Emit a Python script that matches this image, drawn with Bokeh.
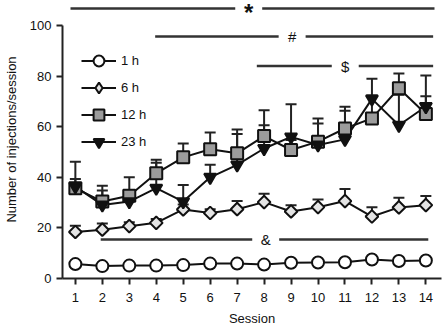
import math
from bokeh.plotting import figure
from bokeh.models import (ColumnDataSource, Range1d, FixedTicker, Whisker, TeeHead,
                          Legend, LegendItem)
from bokeh.core.properties import value
from bokeh.embed import file_html
from bokeh.resources import INLINE

sessions = list(range(1, 15))
h1_mean = [5.7, 4.9, 5.1, 5.1, 5.3, 5.9, 5.9, 5.5, 6.2, 6.3, 6.4, 7.5, 6.9, 7.1]
h1_err = [0.8, 0.6, 0.6, 0.6, 0.6, 0.8, 0.8, 0.6, 0.8, 0.8, 0.8, 1.0, 0.8, 0.8]
h6_mean = [18.4, 19.3, 20.7, 22.0, 27.3, 25.9, 27.4, 30.2, 26.5, 28.2, 30.6, 24.5, 28.1, 29.0]
h6_err = [2.5, 2.4, 1.5, 1.5, 2.0, 1.5, 3.2, 3.3, 2.5, 3.0, 4.8, 3.7, 3.8, 3.6]
h12_mean = [35.7, 30.4, 32.7, 41.6, 47.9, 51.1, 49.5, 56.3, 50.8, 54.1, 59.3, 63.3, 75.2, 65.0]
h12_err = [10.5, 6.3, 7.3, 5.3, 5.5, 6.6, 9.4, 10.2, 4.0, 9.2, 8.6, 9.0, 5.8, 7.0]
h23_mean = [36.3, 29.1, 30.4, 35.7, 30.4, 40.0, 44.9, 51.4, 56.0, 52.8, 55.0, 71.0, 60.6, 68.0]
h23_err = [3.0, 5.7, 3.0, 10.1, 6.6, 5.0, 12.2, 9.2, 12.9, 8.5, 11.3, 8.0, 12.0, 12.3]
series_labels = ["1 h", "6 h", "12 h", "23 h"]

y_ticks = [0, 20, 40, 60, 80, 100]

sig_labels = ["*", "#", "$", "&"]
sig_y = [106.7, 95.7, 84.0, 15.4]
sig_x0 = [0.82, 3.96, 7.73, 1.94]
sig_x1 = [14.32, 14.27, 14.27, 14.09]
sig_xmark = [7.43, 9.04, 11.01, 8.06]

FONT = "Liberation Sans"

p = figure(width=442, height=328, output_backend="svg", toolbar_location=None,
           x_range=Range1d(0.523, 14.58), y_range=Range1d(0, 109.9),
           min_border_left=58, min_border_right=1, min_border_top=0, min_border_bottom=49)
p.outline_line_color = None
p.grid.visible = False
p.background_fill_color = "white"

# axes
p.xaxis.ticker = FixedTicker(ticks=sessions)
p.yaxis.ticker = FixedTicker(ticks=y_ticks)
p.yaxis.bounds = (0, 100)
for ax in (p.xaxis[0], p.yaxis[0]):
    ax.axis_line_width = 2
    ax.axis_line_color = "#222222"
    ax.major_tick_line_width = 2
    ax.major_tick_line_color = "#222222"
    ax.major_tick_out = 6
    ax.major_tick_in = 0
    ax.minor_tick_line_color = None
    ax.major_label_text_font = FONT
    ax.major_label_text_font_size = "13px"
    ax.major_label_text_color = "#111111"
    ax.axis_label_text_font = FONT
    ax.axis_label_text_font_size = "13px"
    ax.axis_label_text_font_style = "normal"
    ax.axis_label_text_color = "#111111"
p.xaxis.axis_label = "Session"
p.yaxis.axis_label = "Number of injections/session"
p.xaxis.major_label_standoff = 8
p.xaxis.axis_label_standoff = 6
p.yaxis.major_label_standoff = 5
p.yaxis.axis_label_standoff = 8

# significance bars
gap = 0.5
bars = ColumnDataSource(dict(
    x0=[a for a in sig_x0] + [m + gap for m in sig_xmark],
    x1=[m - gap for m in sig_xmark] + [b for b in sig_x1],
    y=sig_y + sig_y,
))
p.segment(x0="x0", y0="y", x1="x1", y1="y", source=bars, line_color="#333333", line_width=2.5)
p.text(x=sig_xmark[:1], y=sig_y[:1], text=sig_labels[:1], text_align="center",
       text_baseline="top", text_font=value(FONT), text_font_size="24px",
       text_font_style="bold", y_offset=-10, text_color="#111111")
p.text(x=sig_xmark[1:], y=sig_y[1:], text=sig_labels[1:], text_align="center",
       text_baseline="middle", text_font=value(FONT), text_font_size="15px",
       text_color="#111111")

series = [
    (h1_mean, h1_err, "circle", "white", 12, 0.0, "circle"),
    (h6_mean, h6_err, "square", "#e4e4e4", 9, math.pi / 4, "diamond"),
    (h12_mean, h12_err, "square", "#9c9c9c", 12, 0.0, "square"),
    (h23_mean, h23_err, "inverted_triangle", "#111111", 12, 0.0, "inverted_triangle"),
]

sources = []
for mean, err, *_ in series:
    src = ColumnDataSource(dict(x=sessions, y=mean, top=[m + e for m, e in zip(mean, err)]))
    sources.append(src)
    p.add_layout(Whisker(source=src, base="x", lower="y", upper="top", dimension="height",
                         line_color="#222222", line_width=2,
                         upper_head=TeeHead(size=11, line_width=2, line_color="#222222"),
                         lower_head=None))

items = []
line_rs = []
for src in sources:
    line_rs.append(p.line("x", "y", source=src, line_color="#111111", line_width=2))
for (mean, err, marker, fill, size, ang, leg_marker), src, lr, lab in zip(series, sources, line_rs, series_labels):
    leg_r = None
    if leg_marker != marker:
        # legend-style marker, drawn underneath (fully covered by) the plotted marker
        leg_r = p.scatter("x", "y", source=src, marker=leg_marker, size=size, fill_color=fill,
                          line_color="#111111", line_width=2)
    mr = p.scatter("x", "y", source=src, marker=marker, size=size, angle=ang, fill_color=fill,
                   line_color="#111111", line_width=2)
    items.append(LegendItem(label=lab, renderers=[lr, leg_r if leg_r is not None else mr]))

legend = Legend(items=items, location=(19, 123), padding=0, spacing=0, margin=0,
                glyph_width=35, glyph_height=27, label_standoff=5,
                label_text_font=FONT, label_text_font_size="13px", label_text_color="#111111",
                border_line_color=None, background_fill_alpha=0)
p.add_layout(legend)

open("out.html", "w").write(file_html(p, INLINE))
